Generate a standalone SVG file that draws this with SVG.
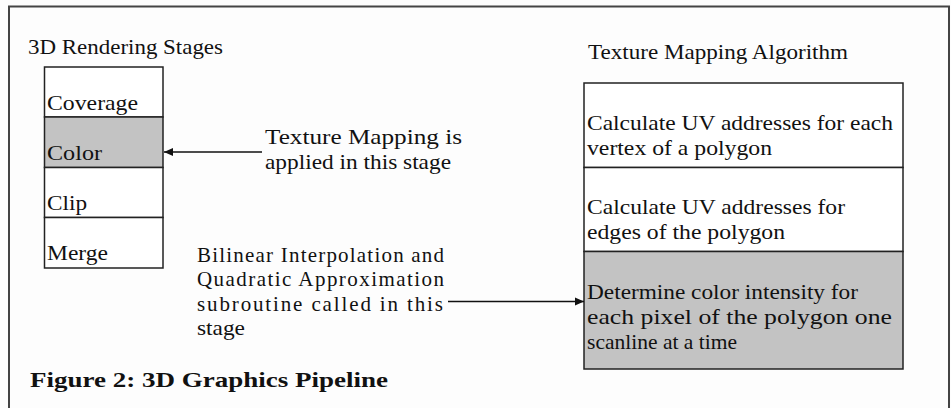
<svg xmlns="http://www.w3.org/2000/svg" width="951" height="408" viewBox="0 0 951 408">
<style>
text{font-family:"Liberation Serif","Times New Roman",serif;font-size:21px;fill:#111}
.cap{font-weight:bold;font-size:22px}
.box{fill:#fff;stroke:#222;stroke-width:1.5}
.gray{fill:#c3c3c3;stroke:#222;stroke-width:1.5}
.conn{stroke:#111;stroke-width:1.5;fill:none}
</style>
<defs>
<marker id="ah" markerWidth="10" markerHeight="10" refX="9" refY="5" orient="auto" markerUnits="userSpaceOnUse">
<path d="M0,1 L9,5 L0,9 Z" fill="#111"/>
</marker>
</defs>
<rect x="0" y="0" width="951" height="408" fill="#fdfdfd"/>
<rect x="9" y="6.5" width="940" height="430" fill="none" stroke="#444" stroke-width="2"/>
<text x="28" y="54" textLength="195" lengthAdjust="spacingAndGlyphs">3D Rendering Stages</text>
<g id="stage-coverage"><rect class="box" x="44.5" y="67" width="118.5" height="50"/><text x="47" y="110" textLength="91" lengthAdjust="spacingAndGlyphs">Coverage</text></g>
<g id="stage-color"><rect class="gray" x="44.5" y="117" width="118.5" height="50.5"/><text x="47" y="160" textLength="55" lengthAdjust="spacingAndGlyphs">Color</text></g>
<g id="stage-clip"><rect class="box" x="44.5" y="167.5" width="118.5" height="50"/><text x="47" y="210" textLength="40" lengthAdjust="spacingAndGlyphs">Clip</text></g>
<g id="stage-merge"><rect class="box" x="44.5" y="217.5" width="118.5" height="50.5"/><text x="47" y="260" textLength="61" lengthAdjust="spacingAndGlyphs">Merge</text></g>
<g id="note-texture">
<text x="265" y="144" textLength="197" lengthAdjust="spacingAndGlyphs">Texture Mapping is</text>
<text x="265" y="169" textLength="186" lengthAdjust="spacingAndGlyphs">applied in this stage</text>
</g>
<g id="note-bilinear">
<text x="197" y="262" textLength="247" lengthAdjust="spacing">Bilinear Interpolation and</text>
<text x="197" y="286" textLength="247" lengthAdjust="spacing">Quadratic Approximation</text>
<text x="197" y="311" textLength="246" lengthAdjust="spacing">subroutine called in this</text>
<text x="197" y="335" textLength="48" lengthAdjust="spacingAndGlyphs">stage</text>
</g>
<text x="588" y="59" textLength="260" lengthAdjust="spacingAndGlyphs">Texture Mapping Algorithm</text>
<g id="algo-vertex"><rect class="box" x="584" y="83" width="319" height="84.5"/>
<text x="587" y="130" textLength="306" lengthAdjust="spacingAndGlyphs">Calculate UV addresses for each</text>
<text x="587" y="155" textLength="185" lengthAdjust="spacingAndGlyphs">vertex of a polygon</text></g>
<g id="algo-edges"><rect class="box" x="584" y="167.5" width="319" height="84"/>
<text x="587" y="214" textLength="258" lengthAdjust="spacingAndGlyphs">Calculate UV addresses for</text>
<text x="587" y="239" textLength="198" lengthAdjust="spacingAndGlyphs">edges of the polygon</text></g>
<g id="algo-pixel"><rect class="gray" x="584" y="251.5" width="319" height="117.5"/>
<text x="587" y="299" textLength="271" lengthAdjust="spacingAndGlyphs">Determine color intensity for</text>
<text x="587" y="324" textLength="305" lengthAdjust="spacingAndGlyphs">each pixel of the polygon one</text>
<text x="587" y="349" textLength="150" lengthAdjust="spacingAndGlyphs">scanline at a time</text></g>
<g id="connectors">
<line class="conn" x1="262" y1="152" x2="164" y2="152" marker-end="url(#ah)"/>
<line class="conn" x1="448" y1="301.5" x2="584" y2="301.5" marker-end="url(#ah)"/>
</g>
<text class="cap" x="30" y="387" textLength="358" lengthAdjust="spacingAndGlyphs">Figure 2: 3D Graphics Pipeline</text>
</svg>
